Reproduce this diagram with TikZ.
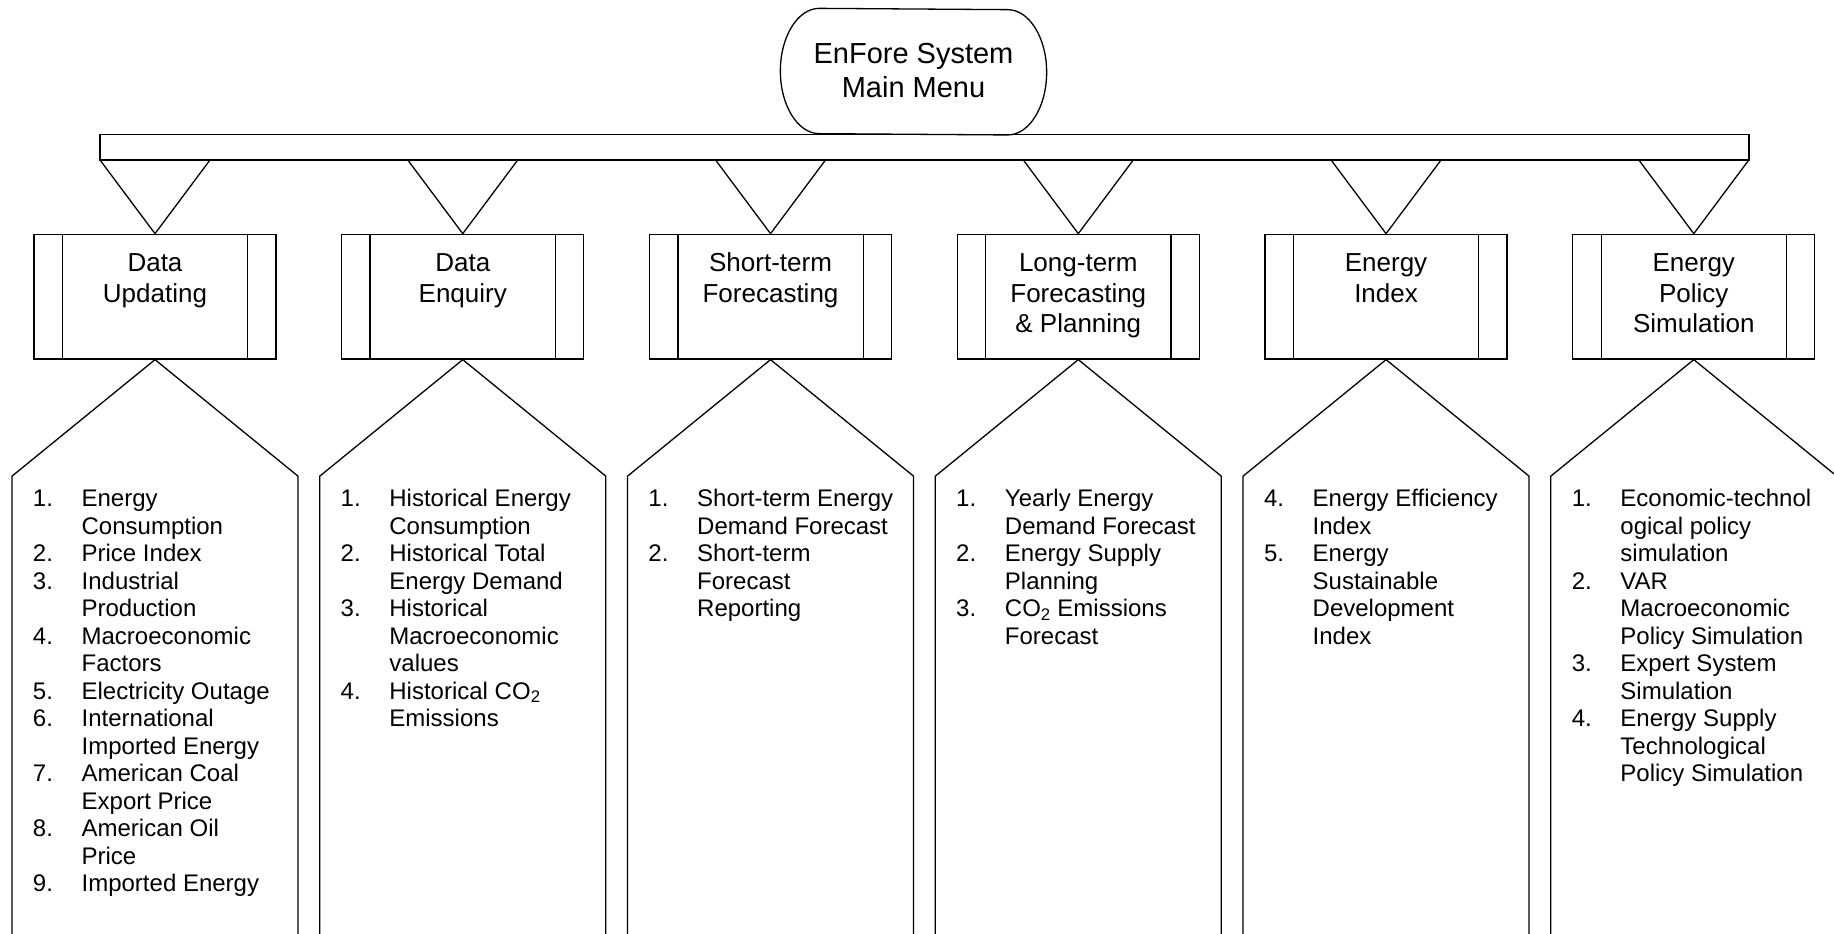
\documentclass[tikz,border=0pt]{standalone}
\usepackage{fontspec}
\setmainfont{Liberation Sans}
\usepackage{array}
\begin{document}
\begin{tikzpicture}[x=1pt, y=-1pt, line width=1.3pt, line join=miter,
  menubox/.style={minimum width=187pt, minimum height=125.3pt, inner sep=0pt},
  menutext/.style={anchor=base, inner sep=0pt, font=\fontsize{29}{34}\selectfont},
  barbox/.style={draw, minimum width=1649pt, minimum height=25.7pt, inner sep=0pt},
  procbox/.style={draw, minimum width=242pt, minimum height=124.7pt, inner sep=0pt},
  boxtitle/.style={anchor=base, inner sep=0pt, font=\fontsize{26}{30.5}\selectfont},
  itemlist/.style={anchor=base west, inner sep=0pt, font=\fontsize{24}{27.5}\selectfont},
]
% canvas
\fill[white] (0,0) rectangle (1834,934);
\useasboundingbox (0,0) rectangle (1834,934);
\clip (0,0) rectangle (1834,934);

% main menu terminal
\node[menubox] (menu) at (913.5,71.65) {};
\draw (menu.north west)
  arc[start angle=90, end angle=270, x radius=39pt, y radius=62.65pt]
  -- (menu.south east)
  arc[start angle=-90, end angle=90, x radius=39pt, y radius=62.65pt]
  -- cycle;
\node[menutext] (menulabel) at (913.5,63.4)
  {\begin{tabular}[t]{@{}c@{}}EnFore System\\Main Menu\end{tabular}};

% distribution bar
\node[barbox] (bar) at (924.5,147.15) {};

% six sub-menus: predefined-process boxes, funnels and list panels
\foreach \i in {1,...,6}{
  \pgfmathsetmacro\cx{155+307.76*(\i-1)}
  \node[procbox] (b\i) at (\cx,296.65) {};
  \draw ([xshift=29pt]b\i.north west) -- ([xshift=29pt]b\i.south west);
  \draw ([xshift=-29pt]b\i.north east) -- ([xshift=-29pt]b\i.south east);
  \draw ([xshift=-54.5pt]b\i.north |- bar.south) -- (b\i.north)
        -- ([xshift=54.5pt]b\i.north |- bar.south);
  \draw (b\i.south) -- ++(-143,116.5) -- ++(0,520);
  \draw (b\i.south) -- ++(143,116.5) -- ++(0,520);
}

% titles
\node[boxtitle] (t1) at (155,271.5)
  {\begin{tabular}[t]{@{}c@{}}Data\\Updating\end{tabular}};
\node[boxtitle] (t2) at (462.76,271.5)
  {\begin{tabular}[t]{@{}c@{}}Data\\Enquiry\end{tabular}};
\node[boxtitle] (t3) at (770.52,271.5)
  {\begin{tabular}[t]{@{}c@{}}Short-term\\Forecasting\end{tabular}};
\node[boxtitle] (t4) at (1078.28,271.5)
  {\begin{tabular}[t]{@{}c@{}}Long-term\\Forecasting\\\& Planning\end{tabular}};
\node[boxtitle] (t5) at (1386.04,271.5)
  {\begin{tabular}[t]{@{}c@{}}Energy\\Index\end{tabular}};
\node[boxtitle] (t6) at (1693.8,271.5)
  {\begin{tabular}[t]{@{}c@{}}Energy\\Policy\\Simulation\end{tabular}};

% item lists
\node[itemlist] (l1) at (32.3,506.6) {\begin{tabular}[t]{@{}p{48.7pt}@{}l@{}}
1. & Energy\\
   & Consumption\\
2. & Price Index\\
3. & Industrial\\
   & Production\\
4. & Macroeconomic\\
   & Factors\\
5. & Electricity Outage\\
6. & International\\
   & Imported Energy\\
7. & American Coal\\
   & Export Price\\
8. & American Oil\\
   & Price\\
9. & Imported Energy
\end{tabular}};

\node[itemlist] (l2) at (340.06,506.6) {\begin{tabular}[t]{@{}p{48.7pt}@{}l@{}}
1. & Historical Energy\\
   & Consumption\\
2. & Historical Total\\
   & Energy Demand\\
3. & Historical\\
   & Macroeconomic\\
   & values\\
4. & Historical CO\textsubscript{2}\\
   & Emissions
\end{tabular}};

\node[itemlist] (l3) at (647.82,506.6) {\begin{tabular}[t]{@{}p{48.7pt}@{}l@{}}
1. & Short-term Energy\\
   & Demand Forecast\\
2. & Short-term\\
   & Forecast\\
   & Reporting
\end{tabular}};

\node[itemlist] (l4) at (955.58,506.6) {\begin{tabular}[t]{@{}p{48.7pt}@{}l@{}}
1. & Yearly Energy\\
   & Demand Forecast\\
2. & Energy Supply\\
   & Planning\\
3. & CO\textsubscript{2} Emissions\\
   & Forecast
\end{tabular}};

\node[itemlist] (l5) at (1263.34,506.6) {\begin{tabular}[t]{@{}p{48.7pt}@{}l@{}}
4. & Energy Efficiency\\
   & Index\\
5. & Energy\\
   & Sustainable\\
   & Development\\
   & Index
\end{tabular}};

\node[itemlist] (l6) at (1571.1,506.6) {\begin{tabular}[t]{@{}p{48.7pt}@{}l@{}}
1. & Economic-technol\\
   & ogical policy\\
   & simulation\\
2. & VAR\\
   & Macroeconomic\\
   & Policy Simulation\\
3. & Expert System\\
   & Simulation\\
4. & Energy Supply\\
   & Technological\\
   & Policy Simulation
\end{tabular}};
\end{tikzpicture}
\end{document}
